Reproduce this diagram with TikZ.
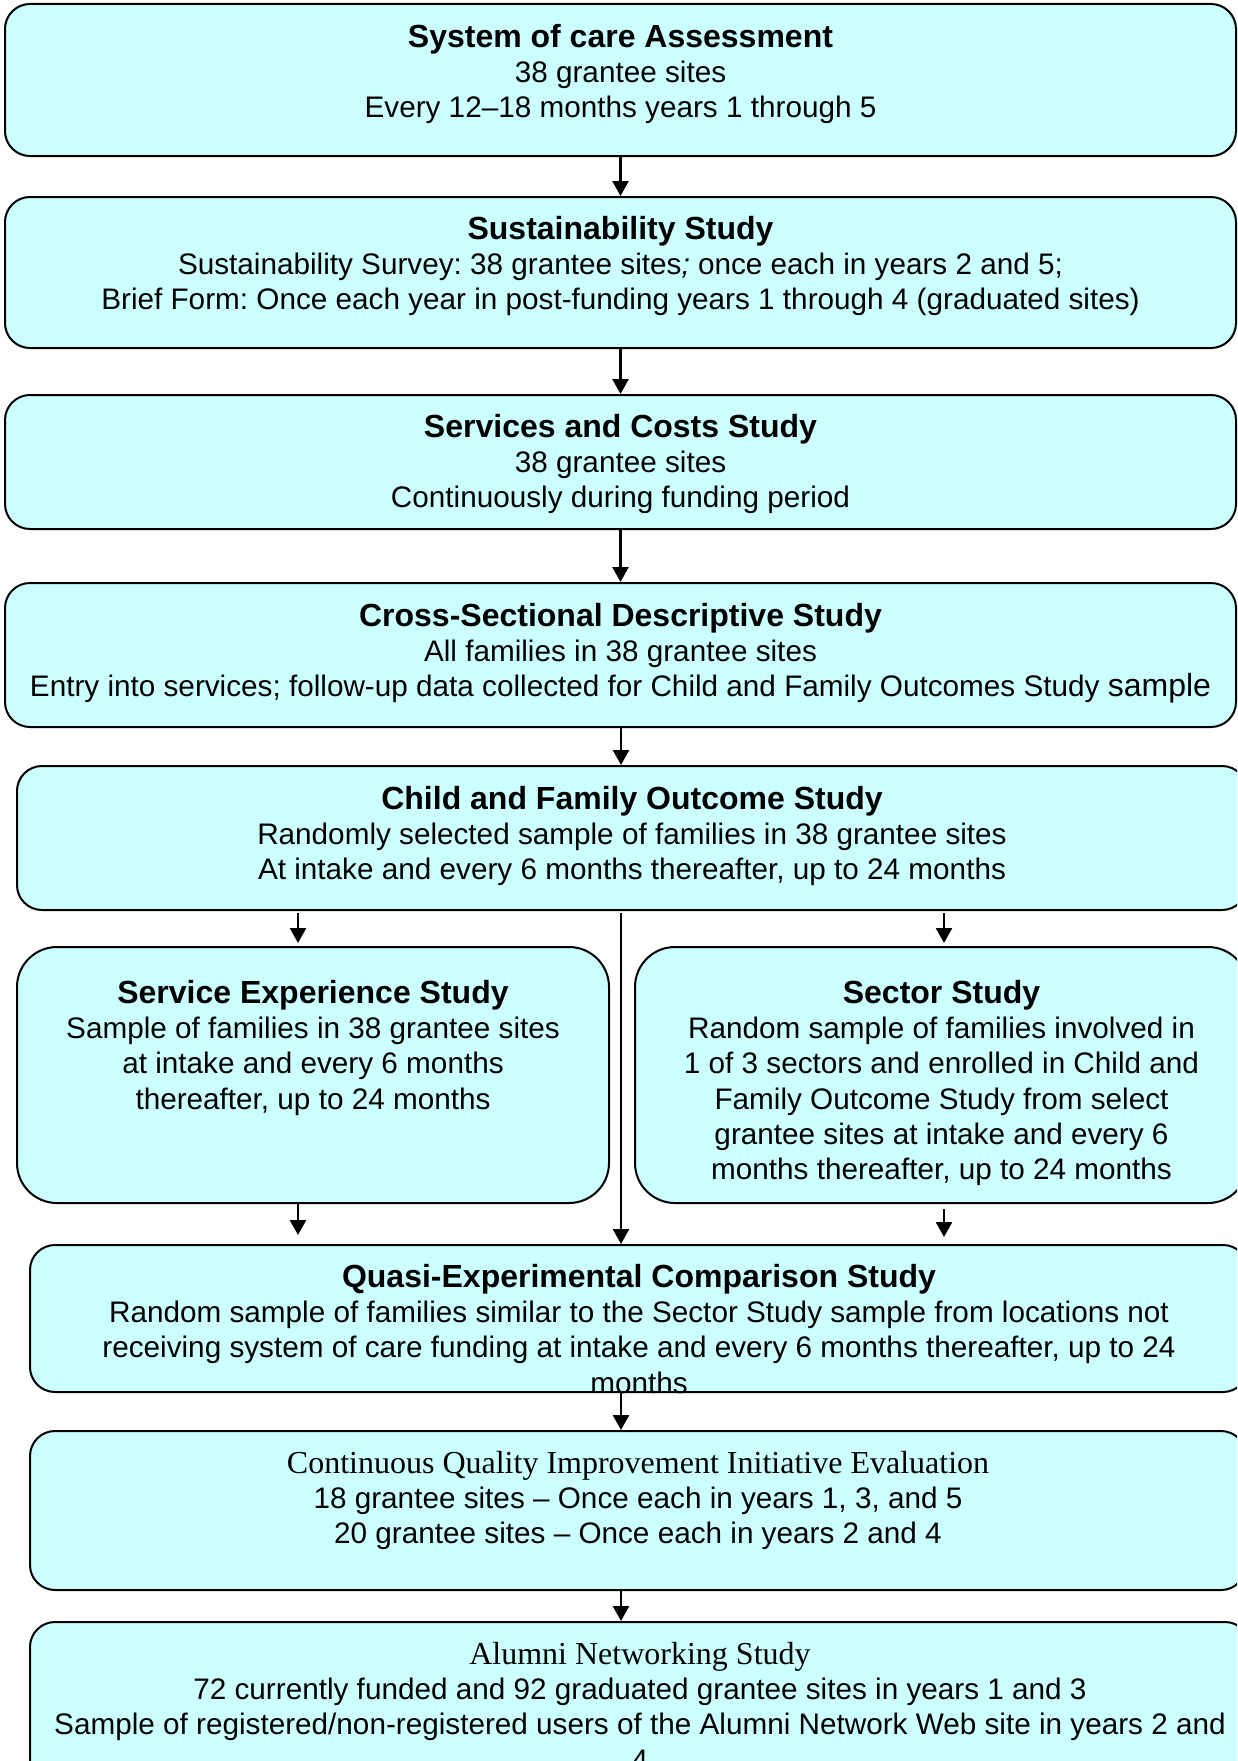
\documentclass[tikz,border=0pt]{standalone}
\usepackage{fontspec}
\setmainfont{Liberation Sans}
\newfontfamily\serifttl{Liberation Serif}
\usetikzlibrary{arrows.meta}
\definecolor{boxfill}{RGB}{204,255,255}
\newcommand\mystrut{\rule{0pt}{24pt}}
\newcommand\ttl[1]{{\fontsize{32}{35.3}\selectfont\bfseries #1}}
\newcommand\sttl[1]{{\serifttl\fontsize{32}{35.3}\selectfont #1}}
\frenchspacing
\begin{document}
\begin{tikzpicture}[x=1pt,y=-1pt,
  box/.style={draw=black, line width=2pt, fill=boxfill, rounded corners=25pt, inner sep=0pt},
  bigbox/.style={box, rounded corners=40pt},
  txt/.style={align=center, inner sep=0pt, font=\fontsize{29.7}{35.3}\selectfont\frenchspacing, anchor=north},
  arr/.style={line width=2.5pt, -{Triangle[length=15pt,width=16pt]}},
]
\useasboundingbox (0,0) rectangle (1237,1761);
\clip (0,0) rectangle (1237,1761);

% boxes
\node[box, minimum width=1231pt, minimum height=152pt] (b1) at (620.5,80) {};
\node[box, minimum width=1231pt, minimum height=151pt] (b2) at (620.5,272.5) {};
\node[box, minimum width=1231pt, minimum height=134pt] (b3) at (620.5,462) {};
\node[box, minimum width=1231pt, minimum height=144pt] (b4) at (620.5,655) {};
\node[box, minimum width=1230pt, minimum height=144pt] (b5) at (632,838) {};
\node[bigbox, minimum width=592pt, minimum height=256pt] (b6) at (313,1075) {};
\node[bigbox, minimum width=613pt, minimum height=256pt] (bs) at (941.5,1075) {};
\node[box, minimum width=1218pt, minimum height=147pt] (b7) at (639,1318.5) {};
\node[box, minimum width=1216pt, minimum height=159pt] (b8) at (638,1510.5) {};
\node[box, minimum width=1220pt, minimum height=178pt] (b9) at (640,1711) {};

% texts
\node[txt] (t1) at ([yshift=-20pt]b1.north) {\mystrut\ttl{System of care Assessment}\\38 grantee sites\\Every 12--18 months years 1 through 5};
\node[txt] (t2) at ([yshift=-19pt]b2.north) {\mystrut\ttl{Sustainability Study}\\Sustainability Survey: 38 grantee sites\textit{;} once each in years 2 and 5;\\Brief Form: Once each year in post-funding years 1 through 4 (graduated sites)};
\node[txt] (t3) at ([yshift=-19pt]b3.north) {\mystrut\ttl{Services and Costs Study}\\38 grantee sites\\Continuously during funding period};
\node[txt] (t4) at ([yshift=-20pt]b4.north) {\mystrut\ttl{Cross-Sectional Descriptive Study}\\All families in 38 grantee sites\\Entry into services; follow-up data collected for Child and Family Outcomes Study {\fontsize{32}{35.3}\selectfont sample}};
\node[txt] (t5) at ([yshift=-20pt]b5.north) {\mystrut\ttl{Child and Family Outcome Study}\\Randomly selected sample of families in 38 grantee sites\\At intake and every 6 months thereafter, up to 24 months};
\node[txt] (t6) at ([yshift=-33pt]b6.north) {\mystrut\ttl{Service Experience Study}\\Sample of families in 38 grantee sites\\at intake and every 6 months\\thereafter, up to 24 months};
\node[txt] (ts) at ([yshift=-33pt]bs.north) {\mystrut\ttl{Sector Study}\\Random sample of families involved in\\1 of 3 sectors and enrolled in Child and\\Family Outcome Study from select\\grantee sites at intake and every 6\\months thereafter, up to 24 months};
\node[txt] (t7) at ([yshift=-19pt]b7.north) {\mystrut\ttl{Quasi-Experimental Comparison Study}\\Random sample of families similar to the Sector Study sample from locations not\\receiving system of care funding at intake and every 6 months thereafter, up to 24\\months};
\node[txt] (t8) at ([yshift=-19pt]b8.north) {\mystrut\sttl{Continuous Quality Improvement Initiative Evaluation}\\18 grantee sites -- Once each in years 1, 3, and 5\\20 grantee sites -- Once each in years 2 and 4};
\node[txt] (t9) at ([yshift=-19pt]b9.north) {\mystrut\sttl{Alumni Networking Study}\\72 currently funded and 92 graduated grantee sites in years 1 and 3\\Sample of registered/non-registered users of the Alumni Network Web site in years 2 and\\4};

% connectors
\coordinate (cl) at (298,930);
\coordinate (cr) at (944,930);
\coordinate (cm) at (621,930);
\draw[arr] (b1.south) -- (b2.north);
\draw[arr] (b2.south) -- (b3.north);
\draw[arr] (b3.south) -- (b4.north);
\draw[arr] (b4.south -| cm) -- (b5.north -| cm);
\draw[arr, shorten <=2pt, shorten >=3pt] (b5.south -| cl) -- (b6.north -| cl);
\draw[arr, shorten <=2pt, shorten >=3pt] (b5.south -| cr) -- (bs.north -| cr);
\draw[arr, shorten <=2pt] (b5.south -| cm) -- (b7.north -| cm);
\draw[arr, shorten >=9pt] (b6.south -| cl) -- (b7.north -| cl);
\draw[arr, shorten <=5pt, shorten >=7pt] (bs.south -| cr) -- (b7.north -| cr);
\draw[arr] (b7.south -| cm) -- (b8.north -| cm);
\draw[arr] (b8.south -| cm) -- (b9.north -| cm);
\end{tikzpicture}
\end{document}
